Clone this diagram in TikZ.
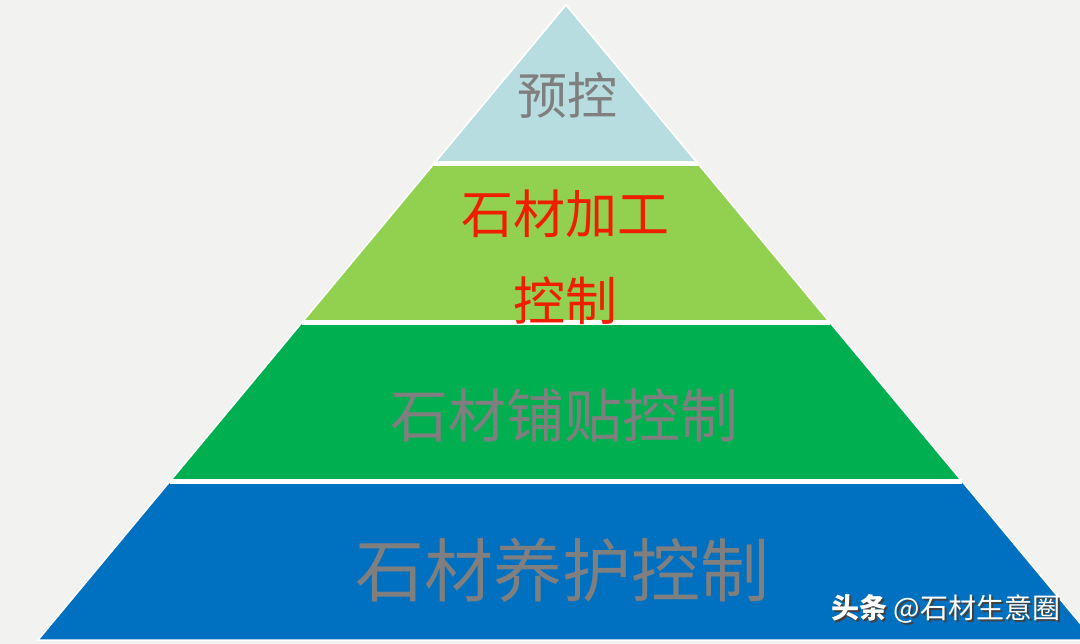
\documentclass[tikz,border=0pt]{standalone}
\usepackage{fontspec}
\newfontfamily\cjk{Noto Sans CJK SC}
\usetikzlibrary{calc}

\definecolor{bggray}{HTML}{F2F2F0}
\definecolor{topaqua}{HTML}{B7DDE0}
\definecolor{lightgreen}{HTML}{92D050}
\definecolor{darkgreen}{HTML}{00B050}
\definecolor{baseblue}{HTML}{0070C0}
\definecolor{txtgray}{HTML}{7F7F7F}
\definecolor{txtred}{HTML}{F01E00}

\begin{document}
\begin{tikzpicture}[
        x=1pt, y=-1pt,
        tiertext/.style={
            inner sep=0pt, text=txtgray
        },
        gapline/.style={white, line width=4.5pt}
      ]

  \useasboundingbox (0,0) rectangle (1080,644);
  \clip (0,0) rectangle (1080,644);
  \fill[bggray] (0,0) rectangle (1080,644);

  \coordinate (apex) at (566,5);
  \coordinate (bl) at (38,640);
  \coordinate (br) at (1094,640);
  \coordinate (l1) at ($(apex)!0.25!(bl)$);
  \coordinate (r1) at ($(apex)!0.25!(br)$);
  \coordinate (l2) at ($(apex)!0.5!(bl)$);
  \coordinate (r2) at ($(apex)!0.5!(br)$);
  \coordinate (l3) at ($(apex)!0.75!(bl)$);
  \coordinate (r3) at ($(apex)!0.75!(br)$);


  \fill[topaqua] (apex) -- (r1) -- (l1) -- cycle;
  \fill[lightgreen] (l1) -- (r1) -- (r2) -- (l2) -- cycle;
  \fill[darkgreen] (l2) -- (r2) -- (r3) -- (l3) -- cycle;
  \fill[baseblue] (l3) -- (r3) -- (br) -- (bl) -- cycle;

  \draw[gapline] (l1) -- (r1);
  \draw[gapline] (l2) -- (r2);
  \draw[gapline] (l3) -- (r3);
  \draw[white, line width=1.5pt] (apex) -- (br) -- (bl) -- cycle;


  \node   (yukong) [tiertext,font=\cjk\fontsize{50}{60}\selectfont] at (567,95) {预控};
  \node   (jiagong) [tiertext,text=txtred,align=center,font=\cjk\fontsize{52}{87}\selectfont] at (565,257) {石材加工\\控制};
  \node   (puzhe) [tiertext,font=\cjk\fontsize{58}{70}\selectfont] at (564,415) {石材铺贴控制};
  \node   (yanghu) [tiertext,font=\cjk\fontsize{69}{80}\selectfont] at (562,570) {石材养护控制};


  \node   (markshadow) [inner sep=0pt,text=black!75,font=\cjk\fontsize{28}{32}\selectfont] at (948,611) {\textbf{头条} @石材生意圈};
  \node   (mark) [inner sep=0pt,text=white,font=\cjk\fontsize{28}{32}\selectfont] at (946,609) {\textbf{头条} @石材生意圈};


\end{tikzpicture}
\end{document}
